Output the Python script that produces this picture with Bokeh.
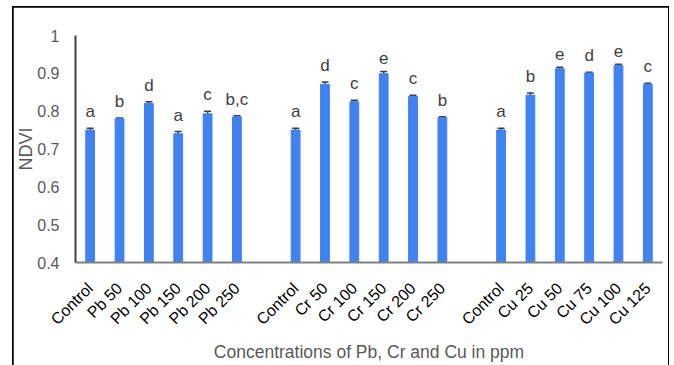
import math
from bokeh.plotting import figure
from bokeh.models import ColumnDataSource, Range1d, FixedTicker, Whisker, TeeHead
from bokeh.core.properties import value
from bokeh.embed import file_html
from bokeh.resources import INLINE

groups = ["Pb", "Cr", "Cu"]
labels = [
    ["Control", "Pb 50", "Pb 100", "Pb 150", "Pb 200", "Pb 250"],
    ["Control", "Cr 50", "Cr 100", "Cr 150", "Cr 200", "Cr 250"],
    ["Control", "Cu 25", "Cu 50", "Cu 75", "Cu 100", "Cu 125"],
]
ndvi = [
    [0.750, 0.780, 0.820, 0.740, 0.793, 0.785],
    [0.750, 0.871, 0.825, 0.899, 0.839, 0.783],
    [0.750, 0.842, 0.912, 0.901, 0.921, 0.871],
]
errors = [
    [0.005, 0.002, 0.005, 0.006, 0.007, 0.003],
    [0.005, 0.006, 0.004, 0.006, 0.003, 0.002],
    [0.005, 0.006, 0.004, 0.002, 0.003, 0.003],
]
letters = [
    ["a", "b", "d", "a", "c", "b,c"],
    ["a", "d", "c", "e", "c", "b"],
    ["a", "b", "e", "d", "e", "c"],
]

xs, ys, es, ts, names = [], [], [], [], []
for g in range(len(groups)):
    for i in range(len(labels[g])):
        xs.append(g * 7 + i)
        ys.append(ndvi[g][i])
        es.append(errors[g][i])
        ts.append(letters[g][i])
        names.append(labels[g][i])

src = ColumnDataSource(dict(
    x=xs, top=ys, upper=[y + e for y, e in zip(ys, es)],
    lower=[y - e for y, e in zip(ys, es)], letter=ts,
))

FONT = "Liberation Sans"
GRAY = "#595959"

p = figure(width=655, height=358, output_backend="svg", toolbar_location=None,
           x_range=Range1d(-0.5, 19.5), y_range=Range1d(0.4, 1.0),
           min_border_left=61, min_border_right=6, min_border_top=28, min_border_bottom=103)
p.margin = (7, 0, 0, 13)
p.styles = {"outline": "2.5px solid black", "outline-offset": "-1px"}
p.outline_line_color = None
p.xgrid.visible = False
p.ygrid.visible = False
p.background_fill_color = "white"
p.border_fill_color = "white"

p.vbar(x="x", top="top", bottom=0.4, width=0.3, source=src,
       fill_color="#3F82F0", line_color="#3F82F0")

w = Whisker(base="x", upper="upper", lower="lower", source=src,
            line_color="#404040", line_width=1.5,
            upper_head=TeeHead(size=7, line_color="#404040", line_width=1.5),
            lower_head=TeeHead(size=7, line_color="#404040", line_width=1.5))
p.add_layout(w)

p.text(x="x", y="upper", text="letter", source=src, text_align="center",
       text_baseline="bottom", y_offset=-7, text_font=value(FONT),
       text_font_size="17px", text_color="#404040")

# axes
p.yaxis.ticker = FixedTicker(ticks=[0.4, 0.5, 0.6, 0.7, 0.8, 0.9, 1.0])
p.yaxis.major_label_overrides = {1.0: "1"}
p.yaxis.major_tick_line_color = None
p.yaxis.minor_tick_line_color = None
p.yaxis.axis_line_color = "#404040"
p.yaxis.axis_line_width = 2
p.yaxis.major_label_text_font = FONT
p.yaxis.major_label_text_font_size = "16px"
p.yaxis.major_label_text_color = GRAY
p.yaxis.major_label_standoff = 10
p.yaxis.axis_label = "NDVI"
p.yaxis.axis_label_text_font = FONT
p.yaxis.axis_label_text_font_size = "18px"
p.yaxis.axis_label_text_font_style = "normal"
p.yaxis.axis_label_text_color = GRAY
p.yaxis.axis_label_standoff = -2

p.xaxis.ticker = FixedTicker(ticks=xs)
p.xaxis.major_label_overrides = {x: n for x, n in zip(xs, names)}
p.xaxis.major_tick_line_color = None
p.xaxis.minor_tick_line_color = None
p.xaxis.axis_line_color = "#808080"
p.xaxis.axis_line_width = 2
p.xaxis.major_label_orientation = math.pi / 4
p.xaxis.major_label_text_font = FONT
p.xaxis.major_label_text_font_size = "16px"
p.xaxis.major_label_text_color = "black"
p.xaxis.major_label_standoff = 17
p.xaxis.axis_label = "Concentrations of Pb, Cr and Cu in ppm"
p.xaxis.axis_label_text_font = FONT
p.xaxis.axis_label_text_font_size = "17.5px"
p.xaxis.axis_label_text_font_style = "normal"
p.xaxis.axis_label_text_color = GRAY
p.xaxis.axis_label_standoff = 5

open("out.html", "w").write(file_html(p, INLINE))
